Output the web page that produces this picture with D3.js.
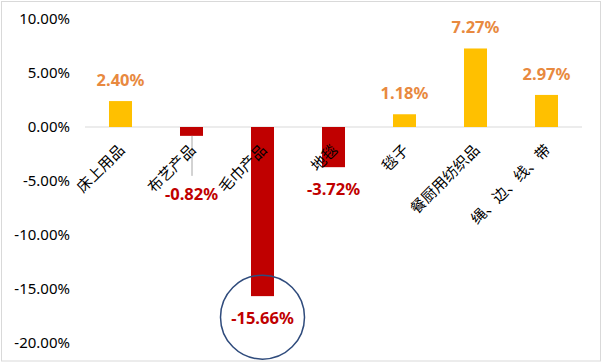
<!DOCTYPE html>
<html>
<head>
<meta charset="utf-8">
<script src="https://cdn.jsdelivr.net/npm/d3@7"></script>
<style>
  body { margin: 0; background: #fff; }
  svg { display: block; font-family: "Noto Sans", "Noto Sans CJK SC", sans-serif; }
  .tick-label { font-size: 15px; fill: #000; }
  .cat-label { font-size: 15px; fill: #000; }
  .value-label { font-size: 16.5px; font-weight: bold; }
</style>
</head>
<body>
<svg id="chart"></svg>
<script>
  //begin: data
  var categories = ["床上用品", "布艺产品", "毛巾产品", "地毯", "毯子", "餐厨用纺织品", "绳、边、线、带"];
  var growth = [2.40, -0.82, -15.66, -3.72, 1.18, 7.27, 2.97];
  var yTicks = [10, 5, 0, -5, -10, -15, -20];
  //end: data

  //begin: layout conf.
  var svgWidth = 604,
      svgHeight = 364,
      plot = {left: 85, right: 582, top: 19, bottom: 343};
  var posColor = "#FFC000",
      negColor = "#C00000",
      posText = "#E8893F",
      negText = "#C00000";
  //end: layout conf.

  // plain hyphen for negatives, like the original
  var pct = function(v){ return v.toFixed(2) + "%"; };

  var svg = d3.select("#chart")
    .attr("width", svgWidth)
    .attr("height", svgHeight);

  // outer frame
  svg.append("rect")
    .attr("x", 1.5).attr("y", 1.5)
    .attr("width", 599).attr("height", 359.5)
    .style("fill", "none")
    .style("stroke", "#D9D9D9");

  var x = d3.scaleBand()
    .domain(categories)
    .range([plot.left, plot.right])
    .paddingInner(0.676)
    .paddingOuter(0.338);

  var y = d3.scaleLinear()
    .domain([-20, 10])
    .range([plot.bottom, plot.top]);

  // y tick labels
  svg.append("g").selectAll("text")
    .data(yTicks)
    .enter().append("text")
      .classed("tick-label", true)
      .attr("x", 70)
      .attr("y", function(d){ return y(d); })
      .attr("dy", "0.35em")
      .attr("text-anchor", "end")
      .text(pct);

  // zero line
  svg.append("line")
    .attr("x1", plot.left).attr("x2", plot.right)
    .attr("y1", y(0)).attr("y2", y(0))
    .style("stroke", "#D9D9D9")
    .style("stroke-width", 1);

  var rows = categories.map(function(c, i){ return {name: c, value: growth[i]}; });

  // bars
  svg.append("g").selectAll("rect")
    .data(rows)
    .enter().append("rect")
      .attr("x", function(d){ return x(d.name); })
      .attr("width", x.bandwidth())
      .attr("y", function(d){ return y(Math.max(0, d.value)); })
      .attr("height", function(d){ return Math.abs(y(d.value) - y(0)); })
      .style("fill", function(d){ return d.value >= 0 ? posColor : negColor; });

  // label of 布艺产品 was dragged down, with a leader line
  var movedLabel = "布艺产品", moveBy = 36;
  function labelY(d) {
    if (d.value >= 0) return y(d.value) - 15;
    return y(d.value) + 28 + (d.name === movedLabel ? moveBy : 0);
  }

  var moved = rows.filter(function(d){ return d.name === movedLabel; })[0];
  svg.append("line")
    .attr("x1", x(moved.name) + x.bandwidth()/2 + 0.5)
    .attr("x2", x(moved.name) + x.bandwidth()/2 + 0.5)
    .attr("y1", y(moved.value))
    .attr("y2", labelY(moved) - 24)
    .style("stroke", "#A6A6A6")
    .style("stroke-width", 1);

  // category labels, rotated
  svg.append("g").selectAll("text")
    .data(rows)
    .enter().append("text")
      .classed("cat-label", true)
      .attr("text-anchor", "end")
      .attr("transform", function(d){
        return "translate(" + [x(d.name) + x.bandwidth()/2 + 5, y(0) + 24] + ") rotate(-45)";
      })
      .text(function(d){ return d.name; });

  // value labels
  svg.append("g").selectAll("text")
    .data(rows)
    .enter().append("text")
      .classed("value-label", true)
      .attr("x", function(d){ return x(d.name) + x.bandwidth()/2; })
      .attr("y", labelY)
      .attr("text-anchor", "middle")
      .style("fill", function(d){ return d.value >= 0 ? posText : negText; })
      .text(function(d){ return pct(d.value); });

  // circle highlighting the biggest drop
  var worst = rows.reduce(function(a, b){ return b.value < a.value ? b : a; });
  svg.append("circle")
    .attr("cx", x(worst.name) + x.bandwidth()/2)
    .attr("cy", labelY(worst) - 7)
    .attr("r", 42)
    .style("fill", "none")
    .style("stroke", "#2F4B7C")
    .style("stroke-width", 1.5);
</script>
</body>
</html>
